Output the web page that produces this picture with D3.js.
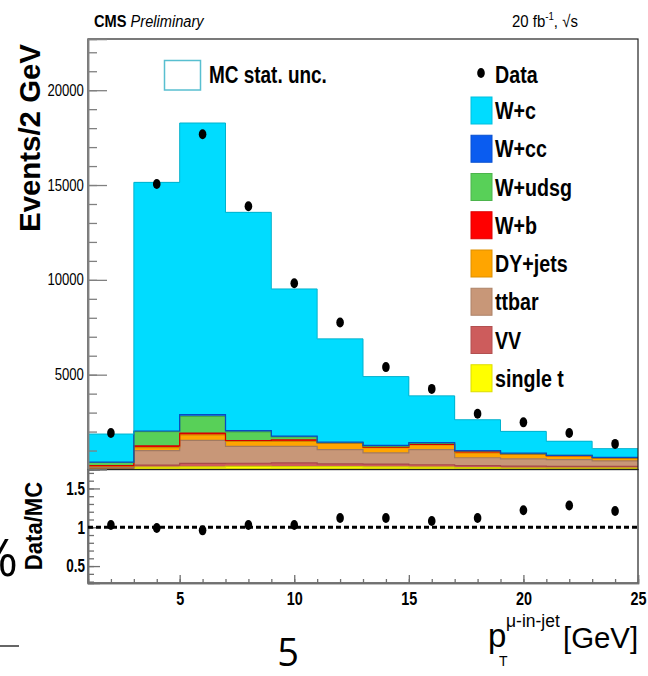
<!DOCTYPE html>
<html>
<head>
<meta charset="utf-8">
<script src="https://cdn.jsdelivr.net/npm/d3@7"></script>
<style>
  html, body { margin: 0; padding: 0; background: #fff; }
  svg { display: block; }
  text { font-family: "Liberation Sans", Arial, Helvetica, sans-serif; fill: #000; }
</style>
</head>
<body>
<svg id="chart" width="648" height="676"></svg>
<script>
// Bin centres of the muon-in-jet pT histogram (2 GeV wide bins)
const binCenters = [2, 4, 6, 8, 10, 12, 14, 16, 18, 20, 22, 24];
const binWidth = 2;

// Simulated contributions per bin (events / 2 GeV)
const wc     = [1480, 13110, 15370, 11510, 7760, 5450, 3630, 2465, 1625, 1150, 740, 460];
const wcc    = [20, 30, 100, 70, 40, 20, 40, 40, 20, 20, 10, 10];
const wudsg  = [170, 750, 880, 450, 160, 10, 50, 50, 20, 10, 10, 10];
const wb     = [40, 100, 90, 50, 80, 20, 30, 30, 90, 30, 30, 40];
const dyjets = [30, 150, 290, 260, 260, 340, 270, 250, 250, 240, 180, 130];
const ttbar  = [40, 770, 1220, 890, 870, 750, 600, 800, 420, 380, 360, 280];
const vv     = [50, 100, 180, 160, 200, 150, 140, 130, 100, 100, 90, 100];
const singleT = [40, 130, 140, 170, 150, 150, 140, 120, 100, 80, 70, 70];

// Observed events and the data / MC ratio
const dataEvents = [1925, 15050, 17680, 13880, 9820, 7750, 5400, 4250, 2940, 2485, 1925, 1350];
const dataOverMC = [1.03, 0.99, 0.96, 1.03, 1.03, 1.12, 1.12, 1.08, 1.12, 1.22, 1.28, 1.21];

// Axis tick values
const mainYTicks = [5000, 10000, 15000, 20000];
const ratioYTicks = [0.5, 1, 1.5];
const xTicks = [5, 10, 15, 20, 25];

// Processes, legend order (top to bottom) and fill colours
const processNames = ["W+c", "W+cc", "W+udsg", "W+b", "DY+jets", "ttbar", "VV", "single t"];
const processKeys  = ["wc", "wcc", "wudsg", "wb", "dyjets", "ttbar", "vv", "singleT"];
const processColors = ["#00dcff", "#0a5cf0", "#58d058", "#ff0000", "#ffa500", "#c89778", "#cd5c5c", "#ffff00"];
const seriesByKey = { wc, wcc, wudsg, wb, dyjets, ttbar, vv, singleT };

const svg = d3.select("#chart");

// Panel geometry
const left = 88, right = 638;
const mainTop = 39, mainBottom = 469.5;
const ratioTop = 469.5, ratioBottom = 583;

const x = d3.scaleLinear().domain([1, 25]).range([left, right]);
const y = d3.scaleLinear().domain([0, 22700]).range([mainBottom, mainTop]);
const yr = d3.scaleLinear().domain([0.282, 1.744]).range([ratioBottom, ratioTop]);

// Text with a horizontal squeeze (the plot's lettering is condensed)
function label(parent, str, px, py, o = {}) {
  const t = parent.append("text")
    .attr("transform", `translate(${px},${py})` + (o.rotate ? ` rotate(${o.rotate})` : "") + ` scale(${o.sx || 1},1)`)
    .attr("text-anchor", o.anchor || "start")
    .style("font-size", (o.size || 14) + "px")
    .style("font-weight", o.weight || "normal")
    .style("font-style", o.style || "normal");
  if (o.family) t.style("font-family", o.family);
  if (str !== null) t.text(str);
  return t;
}

// ---- stacked histogram ----
const rows = binCenters.map((c, i) => {
  const r = { c };
  processKeys.forEach(k => r[k] = seriesByKey[k][i]);
  return r;
});
const stackOrder = processKeys.slice().reverse(); // single t at the bottom, W+c on top
const layers = d3.stack().keys(stackOrder)(rows);
const colorOf = k => processColors[processKeys.indexOf(k)];

const stackG = svg.append("g");
layers.forEach(layer => {
  const col = colorOf(layer.key);
  stackG.append("g").selectAll("rect").data(layer).join("rect")
    .attr("x", d => x(d.data.c - binWidth / 2))
    .attr("width", d => x(d.data.c + binWidth / 2) - x(d.data.c - binWidth / 2))
    .attr("y", d => y(d[1]))
    .attr("height", d => y(d[0]) - y(d[1]))
    .attr("fill", col)
    .attr("shape-rendering", "crispEdges");
});
// outline along the top of every layer
const stepLine = d3.line().curve(d3.curveStepAfter).x(p => x(p[0])).y(p => y(p[1]));
layers.forEach(layer => {
  const pts = layer.map(d => [d.data.c - binWidth / 2, d[1]]);
  pts.push([25, layer[layer.length - 1][1]]);
  stackG.append("path")
    .attr("d", stepLine(pts))
    .attr("fill", "none")
    .attr("stroke", d3.color(colorOf(layer.key)).darker(0.6))
    .attr("stroke-width", layer.key === "wc" ? 1 : 1.2);
});

// ---- frames ----
svg.append("rect").attr("x", left).attr("y", mainTop).attr("width", right - left).attr("height", mainBottom - mainTop)
  .attr("fill", "none").attr("stroke", "#222").attr("stroke-width", 1.2);
svg.append("rect").attr("x", left).attr("y", ratioTop).attr("width", right - left).attr("height", ratioBottom - ratioTop)
  .attr("fill", "none").attr("stroke", "#222").attr("stroke-width", 1.2);

// ---- axes ----
function styleAxis(g, color) {
  g.select(".domain").attr("stroke", color).attr("stroke-width", 1.5);
  g.selectAll(".tick line").attr("stroke", color).attr("stroke-width", 1.3);
}
// main y axis: major ticks with labels, 1000-step minor ticks
const yMinor = svg.append("g").attr("transform", `translate(${left},0)`)
  .call(d3.axisLeft(y).tickValues(d3.range(1000, 22700, 1000)).tickSize(-9).tickFormat(""));
styleAxis(yMinor, "#808080");
const yMajor = svg.append("g").attr("transform", `translate(${left},0)`)
  .call(d3.axisLeft(y).tickValues(mainYTicks).tickSize(-19).tickPadding(5).tickFormat(d3.format("d")));
styleAxis(yMajor, "#808080");
yMajor.selectAll("text")
  .attr("transform", "scale(0.82,1)")
  .style("font-size", "16px").style("font-family", "Liberation Sans, Arial, sans-serif");

// ratio y axis
const rMinor = svg.append("g").attr("transform", `translate(${left},0)`)
  .call(d3.axisLeft(yr).tickValues(d3.range(3, 18).map(v => v / 10)).tickSize(-6).tickFormat(""));
styleAxis(rMinor, "#707070");
const rMajor = svg.append("g").attr("transform", `translate(${left},0)`)
  .call(d3.axisLeft(yr).tickValues(ratioYTicks).tickSize(-12).tickPadding(4).tickFormat(d => String(d)));
styleAxis(rMajor, "#707070");
rMajor.selectAll("text")
  .attr("transform", "scale(0.75,1)")
  .style("font-size", "18px").style("font-weight", "bold");

// x axis along the bottom of the ratio panel
const xMinor = svg.append("g").attr("transform", `translate(0,${ratioBottom})`)
  .call(d3.axisBottom(x).tickValues(d3.range(2, 25, 1)).tickSize(-4).tickFormat(""));
styleAxis(xMinor, "#707070");
const xMajor = svg.append("g").attr("transform", `translate(0,${ratioBottom})`)
  .call(d3.axisBottom(x).tickValues(xTicks).tickSize(-8).tickPadding(9).tickFormat(d3.format("d")));
styleAxis(xMajor, "#707070");
xMajor.selectAll("text")
  .attr("transform", "scale(0.8,1)")
  .attr("x", 0)
  .style("font-size", "18px").style("font-weight", "bold");

// ---- data points ----
svg.append("g").selectAll("ellipse").data(binCenters).join("ellipse")
  .attr("cx", c => x(c))
  .attr("cy", (c, i) => y(dataEvents[i]))
  .attr("rx", 3.8).attr("ry", 5).attr("fill", "#000");

// ratio: unity reference and points
svg.append("line")
  .attr("x1", left).attr("x2", right).attr("y1", yr(1)).attr("y2", yr(1))
  .attr("stroke", "#000").attr("stroke-width", 3).attr("stroke-dasharray", "5,3");
svg.append("g").selectAll("ellipse").data(binCenters).join("ellipse")
  .attr("cx", c => x(c))
  .attr("cy", (c, i) => yr(dataOverMC[i]))
  .attr("rx", 3.8).attr("ry", 5).attr("fill", "#000");

// ---- legend ----
const lg = svg.append("g");
lg.append("rect").attr("x", 164.5).attr("y", 60.5).attr("width", 36).attr("height", 29.5)
  .attr("fill", "#fff").attr("stroke", "#58bfd0").attr("stroke-width", 1.5);
label(lg, "MC stat. unc.", 209, 83, { size: 24, weight: "bold", sx: 0.79 });

lg.append("ellipse").attr("cx", 481).attr("cy", 73).attr("rx", 3.8).attr("ry", 5).attr("fill", "#000");
label(lg, "Data", 495, 83, { size: 24, weight: "bold", sx: 0.82 });
processNames.forEach((name, i) => {
  const cy = 110.5 + i * 38.25;
  lg.append("rect").attr("x", 471).attr("y", cy - 13.5).attr("width", 21).attr("height", 27)
    .attr("fill", processColors[i]).attr("stroke", d3.color(processColors[i]).darker(0.4)).attr("stroke-width", 1);
  label(lg, name, 495, cy + 8.5, { size: 24, weight: "bold", sx: 0.82 });
});

// ---- titles ----
const hdr = label(svg, null, 94, 27, { size: 17, sx: 0.86 });
hdr.append("tspan").style("font-weight", "bold").text("CMS ");
hdr.append("tspan").style("font-style", "italic").text("Preliminary");

const lumi = label(svg, null, 512, 27, { size: 17, sx: 0.88 });
lumi.append("tspan").text("20 fb");
lumi.append("tspan").attr("dy", -7).style("font-size", "11px").text("-1");
lumi.append("tspan").attr("dy", 7).text(", √s");

label(svg, "Events/2 GeV", 40, 138, { size: 30, weight: "bold", rotate: -90, anchor: "middle", sx: 0.98 });
label(svg, "Data/MC", 42, 526, { size: 24, weight: "bold", rotate: -90, anchor: "middle", sx: 0.92 });

label(svg, "p", 488, 647, { size: 33 });
label(svg, "μ-in-jet", 506, 627, { size: 19, sx: 0.92 });
label(svg, "T", 499, 666, { size: 14 });
label(svg, "[GeV]", 563, 648, { size: 30, sx: 0.98 });

// ---- surrounding slide fragments ----
label(svg, "%", 18, 576, { size: 52, anchor: "end", family: "Open Sans, sans-serif" });
svg.append("line").attr("x1", 0).attr("x2", 19).attr("y1", 646).attr("y2", 646)
  .attr("stroke", "#333").attr("stroke-width", 1.5);
label(svg, "5", 288, 666, { size: 38, anchor: "middle", family: "Open Sans, sans-serif" });
</script>
</body>
</html>
